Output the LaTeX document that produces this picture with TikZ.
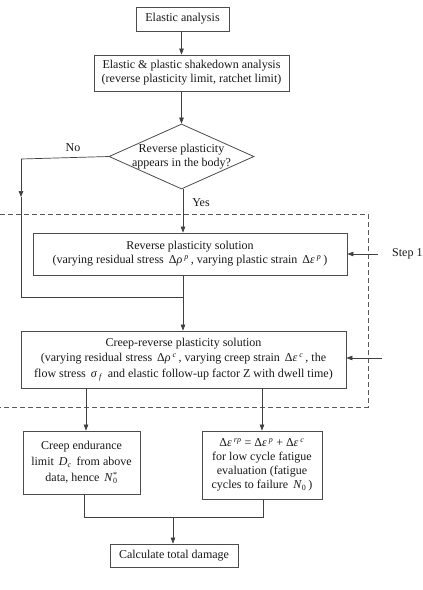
\documentclass[tikz,border=0pt]{standalone}
\usepackage{fontspec}
\setmainfont{Liberation Serif}
\usetikzlibrary{shapes.geometric,arrows.meta}
\newcommand{\iv}[1]{\textit{#1}}
\newcommand{\sps}[1]{\textsuperscript{\textit{#1}}}
\newcommand{\sbs}[1]{\textsubscript{\textit{#1}}}
\tikzset{
  box/.style={draw=black!70, line width=0.8pt, rectangle, align=center, inner sep=0pt, font=\fontsize{12}{14}\selectfont, text=black!90},
  arr/.style={draw=black!75, line width=0.7pt, -{Triangle[length=6pt,width=4.5pt]}},
  ln/.style={draw=black!75, line width=0.7pt},
  lbl/.style={font=\fontsize{12}{14}\selectfont, text=black!90, inner sep=0pt},
  dbox/.style={draw=black!65, line width=0.7pt, dash pattern=on 5pt off 3pt}
}
\begin{document}
\begin{tikzpicture}[x=1pt,y=-1pt]
\useasboundingbox (0,0) rectangle (423,590);
\fill[white] (0,0) rectangle (423,590);

\node[box, minimum width=93pt, minimum height=24pt] (e1) at (182.5,19) {Elastic analysis};
\node[box, minimum width=195pt, minimum height=36pt] (e2) at (191.5,73) {Elastic \& plastic shakedown analysis\\(reverse plasticity limit, ratchet limit)};
\node[draw=black!70, line width=0.8pt, diamond, minimum width=145pt, minimum height=65pt, inner sep=0pt] (d) at (181.5,156.5) {};
\node[lbl, align=center] (dt) at (181.5,157) {Reverse plasticity\\appears in the body?};
\node[box, minimum width=314pt, minimum height=42pt] (r) at (190,254) {Reverse plasticity solution\\(varying residual stress \,Δ\iv{ρ}\,\sps{p}\,, varying plastic strain \,Δ\iv{ε}\,\sps{p}\,)};
\node[box, minimum width=325pt, minimum height=57pt, font=\fontsize{12}{15.5}\selectfont] (c) at (183.5,359.5) {Creep-reverse plasticity solution\\(varying residual stress \,Δ\iv{ρ}\,\sps{c}\,, varying creep strain \,Δ\iv{ε}\,\sps{c}\,, the\\flow stress \,\iv{σ}\,\sbs{f}\, and elastic follow-up factor Z with dwell time)};
\node[box, minimum width=117pt, minimum height=63pt, font=\fontsize{12}{16}\selectfont] (L) at (81.5,462.5) {Creep endurance\\limit \,\iv{D}\sbs{c}\, from above\\data, hence \,\iv{N}\rlap{\textsuperscript{*}}\textsubscript{0}};
\node[box, minimum width=120pt, minimum height=68pt] (R) at (262,465) {Δ\iv{ε}\,\sps{rp} = Δ\iv{ε}\,\sps{p} + Δ\iv{ε}\,\sps{c}\\for low cycle fatigue\\evaluation (fatigue\\cycles to failure \,\iv{N}\textsubscript{0}\,)};
\node[box, minimum width=128pt, minimum height=23pt] (T) at (174,555.5) {Calculate total damage};

\node[lbl] (no) at (73,148) {No};
\node[lbl] (yes) at (201,203) {Yes};
\node[lbl, anchor=west] (s1) at (392,254) {Step 1};

\coordinate (s1a) at (378,254);
\coordinate (s2a) at (382,358);
\coordinate (nx) at (21,159);
\coordinate (nm) at (21,197);
\coordinate (nb) at (21,297);
\coordinate (jn) at (183,297);
\coordinate (bj) at (173,517);

% dashed region
\draw[dbox] (0,214) -- (368,214) -- (368,407) -- (0,407);

% arrows
\draw[arr] (e1.south -| d.north) -- (e2.north -| d.north);
\draw[arr] (e2.south -| d.north) -- (d.north);
\draw[arr] (jn |- d.south) -- (jn |- r.north);
\draw[ln] (d.west) -- (nx);
\draw[arr] (nx) -- (nm);
\draw[ln] (nm) -- (nb) -- (jn);
\draw[ln] (jn |- r.south) -- (jn);
\draw[arr] (jn) -- (jn |- c.north);
\draw[arr] (s1a) -- (r.east);
\draw[arr] (s2a) -- (s2a -| c.east);
\draw[arr] (86,0 |- c.south) -- (86,0 |- L.north);
\draw[arr] (262,0 |- c.south) -- (262,0 |- R.north);
\draw[ln] (84,0 |- L.south) -- (84,0 |- bj) -- (263,0 |- bj) -- (263,0 |- R.south);
\draw[arr] (bj) -- (bj |- T.north);
\end{tikzpicture}
\end{document}
